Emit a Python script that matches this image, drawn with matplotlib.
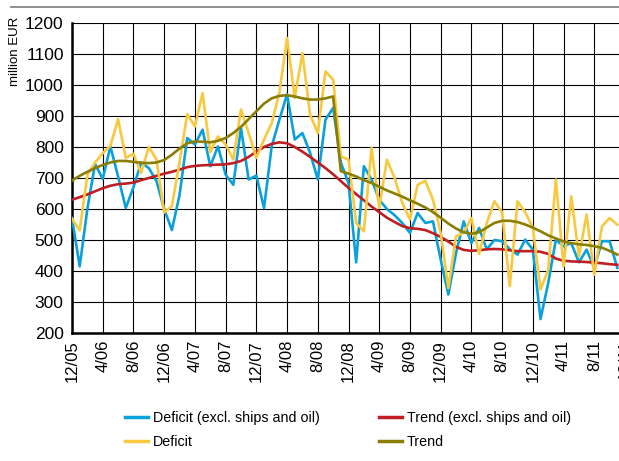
import matplotlib
matplotlib.use("Agg")
import matplotlib.pyplot as plt
from matplotlib.lines import Line2D

# ---- data (million EUR), monthly from 12/05 to 11/11 ----
tick_labels = ["12/05", "4/06", "8/06", "12/06", "4/07", "8/07", "12/07", "4/08",
               "8/08", "12/08", "4/09", "8/09", "12/09", "4/10", "8/10", "12/10",
               "4/11", "8/11", "12/11"]

deficit_excl = [571, 415, 600, 745, 697, 802, 705, 603, 670, 750, 732, 690,
                600, 532, 645, 829, 808, 856, 738, 802, 711, 678, 861, 695,
                708, 603, 802, 888, 970, 824, 845, 781, 695, 888, 926, 750,
                684, 428, 738, 695, 630, 600, 580, 555, 523, 587, 555, 560,
                437, 324, 458, 560, 490, 539, 470, 500, 496, 470, 453, 501,
                469, 245, 361, 501, 480, 490, 428, 469, 410, 496, 496, 410]

deficit = [569, 531, 710, 750, 780, 804, 890, 765, 778, 716, 800, 760,
           589, 609, 750, 906, 866, 974, 783, 834, 808, 760, 921, 845,
           765, 824, 877, 975, 1152, 958, 1103, 904, 845, 1044, 1017, 770,
           759, 555, 528, 797, 603, 759, 700, 620, 566, 678, 691, 630,
           523, 345, 512, 523, 571, 455, 555, 625, 589, 351, 625, 590,
           540, 340, 404, 695, 415, 641, 447, 582, 388, 544, 571, 549]

trend_excl = [630, 638, 647, 657, 667, 675, 680, 682, 685, 693, 700, 707,
              714, 720, 727, 735, 739, 741, 742, 743, 744, 748, 755, 768,
              785, 800, 810, 815, 812, 800, 785, 768, 750, 732, 712, 690,
              668, 648, 628, 608, 590, 572, 558, 545, 538, 536, 532, 522,
              510, 495, 478, 468, 465, 467, 470, 471, 470, 467, 464, 464,
              464, 462, 455, 440, 433, 431, 430, 429, 427, 425, 422, 420]

trend = [692, 707, 720, 732, 742, 750, 755, 755, 752, 749, 748, 750,
         758, 775, 795, 812, 818, 817, 815, 820, 829, 845, 865, 890,
         915, 940, 957, 965, 967, 963, 957, 953, 953, 957, 963, 722,
         714, 705, 693, 684, 672, 660, 650, 640, 628, 617, 605, 590,
         572, 553, 537, 525, 520, 525, 540, 555, 562, 562, 558, 550,
         540, 528, 515, 505, 495, 490, 486, 484, 480, 475, 465, 453]

months = list(range(len(deficit)))
tick_pos = [4 * k for k in range(len(tick_labels))]

FONT = ["Liberation Sans", "DejaVu Sans"]
plt.rcParams["font.family"] = FONT

W, H = 619, 461
fig = plt.figure(figsize=(W / 100, H / 100), dpi=100)
ax = fig.add_axes([72 / W, 1 - 333 / H, (625 - 72) / W, (333 - 23) / H])

c_blue = "#0aa0dc"
c_yellow = "#f8c93e"
c_red = "#bf1e22"
c_olive = "#8a7d00"

lw = 1.9
ax.plot(months, deficit_excl, color=c_blue, lw=lw, zorder=3)
ax.plot(months, trend_excl, color=c_red, lw=lw, zorder=4)
ax.plot(months, deficit, color=c_yellow, lw=lw, zorder=5)
ax.plot(months, trend, color=c_olive, lw=lw, zorder=6)

ax.set_xlim(0, 72)
ax.set_ylim(200, 1200)
ax.set_yticks(range(200, 1201, 100))
ax.set_xticks(tick_pos)
ax.set_xticklabels(tick_labels, rotation=90, fontsize=12)
ax.tick_params(axis="y", labelsize=12.5, length=0, pad=6)
ax.tick_params(axis="x", length=0, pad=5)
ax.grid(True, color="black", lw=0.8, zorder=1)
ax.set_axisbelow(True)
for s in ["top", "right"]:
    ax.spines[s].set_visible(False)
ax.spines["left"].set_linewidth(1.8)
ax.spines["bottom"].set_linewidth(1.8)

fig.text(15 / W, 1 - 51 / H, "million EUR", rotation=90, fontsize=9.5,
         ha="center", va="center")

fig.add_artist(Line2D([11 / W, 1], [1 - 7 / H, 1 - 7 / H], color="#888888", lw=1.3))

handles = [Line2D([], [], color=c_blue, lw=2.5),
           Line2D([], [], color=c_yellow, lw=2.5),
           Line2D([], [], color=c_red, lw=2.5),
           Line2D([], [], color=c_olive, lw=2.5)]
labels = ["Deficit (excl. ships and oil)", "Deficit",
          "Trend (excl. ships and oil)", "Trend"]
fig.legend(handles, labels, ncol=2, loc="center left",
           bbox_to_anchor=(112 / W, 1 - 430 / H), frameon=False,
           fontsize=10.3, handlelength=1.6, handletextpad=0.35,
           columnspacing=4.15, labelspacing=0.75)

fig.savefig("out.png", dpi=100)
